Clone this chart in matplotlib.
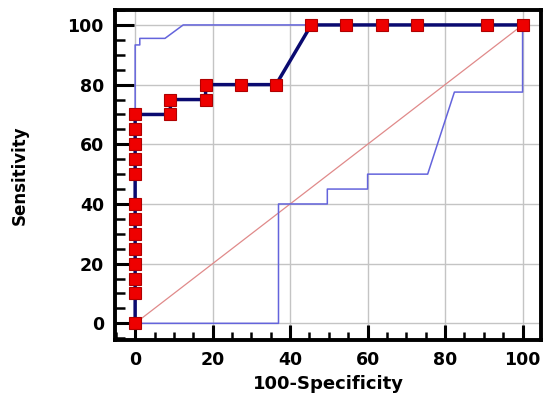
import matplotlib
matplotlib.use("Agg")
import matplotlib.pyplot as plt
from matplotlib.ticker import MultipleLocator

# ROC curve points (100-Specificity, Sensitivity)
roc_x = [0, 0, 0, 0, 0, 0, 0, 0, 0, 0, 0, 0, 0,
         9.09, 9.09, 18.18, 18.18, 27.27, 36.36,
         45.45, 54.55, 63.64, 72.73, 90.91, 100]
roc_y = [0, 10, 15, 20, 25, 30, 35, 40, 50, 55, 60, 65, 70,
         70, 75, 75, 80, 80, 80,
         100, 100, 100, 100, 100, 100]

# Confidence band (upper)
upper_x = [0, 0, 1.2, 1.2, 7.7, 12.4, 100]
upper_y = [0, 93.3, 93.3, 95.5, 95.5, 100, 100]

# Confidence band (lower)
lower_x = [0, 37, 37, 49.6, 49.6, 60, 60, 75.5, 82.4, 100, 100]
lower_y = [0, 0, 40, 40, 45, 45, 50, 50, 77.5, 77.5, 100]

# Reference diagonal
diag_x = [0, 100]
diag_y = [0, 100]

fig = plt.figure(figsize=(5.45, 4.01), dpi=100)
ax = fig.add_axes([0.211, 0.152, 0.782, 0.823])

ax.grid(True, which='major', color='#c4c4c4', linewidth=1.0, zorder=0)
ax.plot(diag_x, diag_y, color='#e08a8a', linewidth=0.9, zorder=2)
band_color = '#6464dc'
ax.plot(upper_x, upper_y, color=band_color, linewidth=1.1, zorder=3)
ax.plot(lower_x, lower_y, color=band_color, linewidth=1.1, zorder=3)
ax.plot(roc_x, roc_y, color='#0a0a70', linewidth=2.5, zorder=4,
        marker='s', markersize=9, markerfacecolor='#ee0000',
        markeredgecolor='#b00000', markeredgewidth=0.8)

ax.set_xlim(-5.2, 104.8)
ax.set_ylim(-5.6, 105)
ax.xaxis.set_major_locator(MultipleLocator(20))
ax.yaxis.set_major_locator(MultipleLocator(20))
ax.xaxis.set_minor_locator(MultipleLocator(5))
ax.yaxis.set_minor_locator(MultipleLocator(5))
ax.tick_params(which='major', direction='in', length=14, width=2.2,
               labelsize=12.5, pad=8)
ax.tick_params(which='minor', direction='in', length=7, width=1.8)
ax.tick_params(axis='x', which='major', length=11)
ax.tick_params(axis='x', which='minor', length=6)
for lab in ax.get_xticklabels() + ax.get_yticklabels():
    lab.set_fontweight('bold')
for s in ax.spines.values():
    s.set_linewidth(2.8)
    s.set_color('black')

ax.set_xlabel('100-Specificity', fontsize=13, fontweight='bold', labelpad=4)
ax.set_ylabel('Sensitivity', fontsize=12, fontweight='bold', labelpad=28)

fig.savefig('out.png', dpi=100)
